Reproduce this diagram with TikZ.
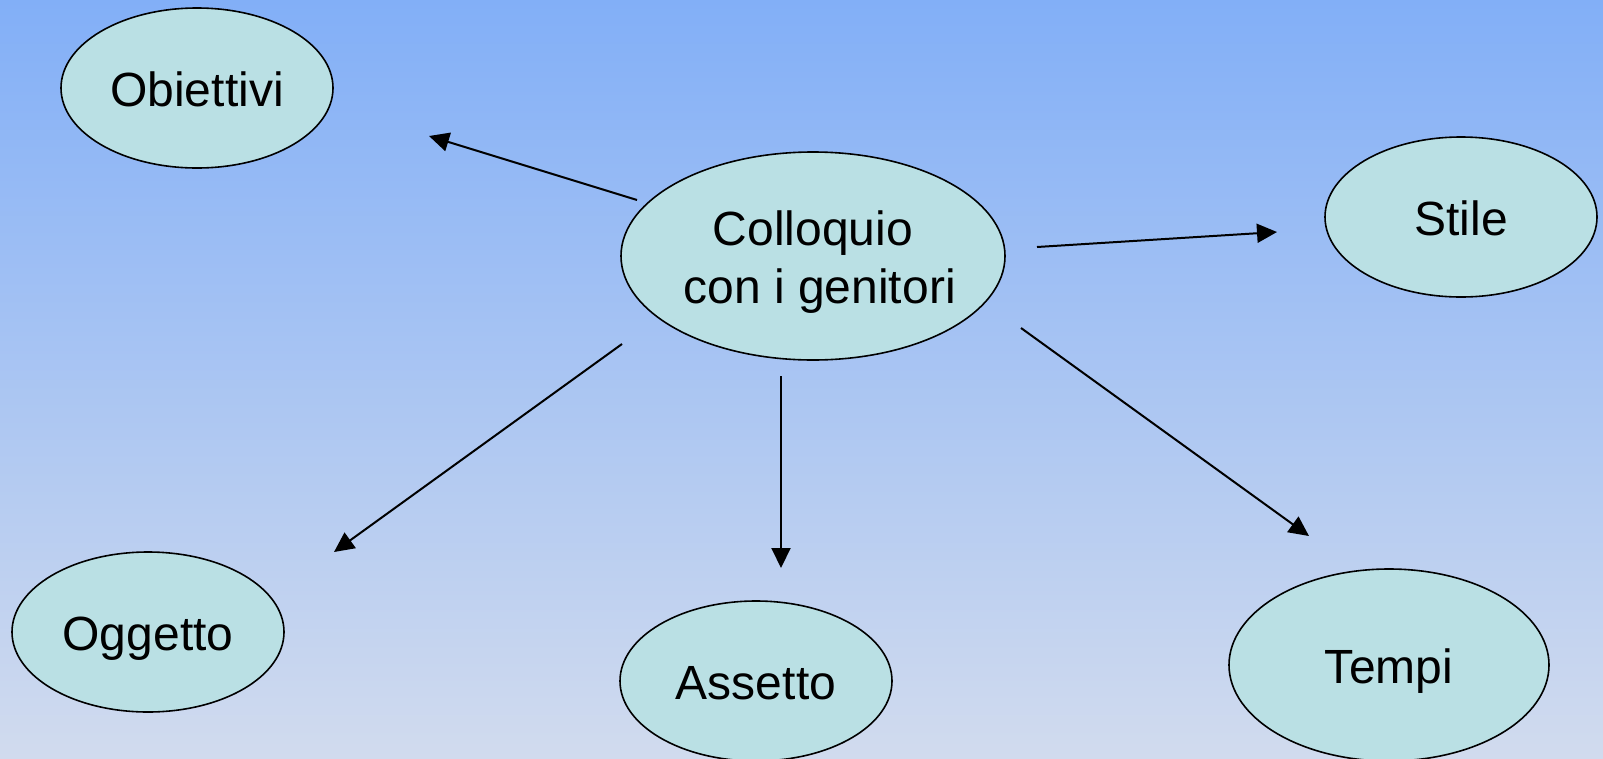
\documentclass[tikz,border=0pt]{standalone}
\usepackage{fontspec}
\setmainfont{Liberation Sans}
\usetikzlibrary{shapes.geometric,arrows.meta}
\definecolor{bgtop}{RGB}{130,175,247}
\definecolor{bgbot}{RGB}{209,219,238}
\definecolor{ellfill}{RGB}{186,224,228}
\tikzset{
  bubble/.style={ellipse, draw=black, line width=1.6pt, fill=ellfill, inner sep=0pt,
    font=\fontsize{48}{58}\selectfont, align=center},
  oneline/.style={bubble, text height=36pt, text depth=0pt},
  link/.style={line width=2pt, -{Triangle[length=20pt,width=19pt]}}
}
\begin{document}
\begin{tikzpicture}[x=1pt,y=-1pt]
\useasboundingbox (0,0) rectangle (1603,758);
\shade[top color=bgtop, bottom color=bgbot] (0,0) rectangle (1603,758);
\node[oneline, minimum width=272pt, minimum height=160pt] (obi) at (197,88) {Obiettivi};
\node[bubble, minimum width=384pt, minimum height=208pt] (col) at (813,256)
  {\rule{0pt}{46pt}\makebox[200pt]{Colloquio}\\ \makebox[200pt]{\hspace*{0.278em}con i genitori}};
\node[oneline, minimum width=272pt, minimum height=160pt] (sti) at (1461,217) {Stile};
\node[oneline, minimum width=272pt, minimum height=160pt] (ogg) at (148,632) {Oggetto};
\node[oneline, minimum width=272pt, minimum height=160pt] (ass) at (756,681) {Assetto};
\node[oneline, minimum width=320pt, minimum height=192pt] (tem) at (1389,665) {Tempi};
\coordinate (a1s) at (637,200);
\coordinate (a1e) at (429,136);
\coordinate (a2s) at (1037,247);
\coordinate (a2e) at (1277,232);
\coordinate (a3s) at (622,344);
\coordinate (a3e) at (334,552);
\coordinate (a4s) at (781,376);
\coordinate (a4e) at (781,568);
\coordinate (a5s) at (1021,328);
\coordinate (a5e) at (1309,536);
\draw[link] (a1s) -- (a1e);
\draw[link] (a2s) -- (a2e);
\draw[link] (a3s) -- (a3e);
\draw[link] (a4s) -- (a4e);
\draw[link] (a5s) -- (a5e);
\end{tikzpicture}
\end{document}
